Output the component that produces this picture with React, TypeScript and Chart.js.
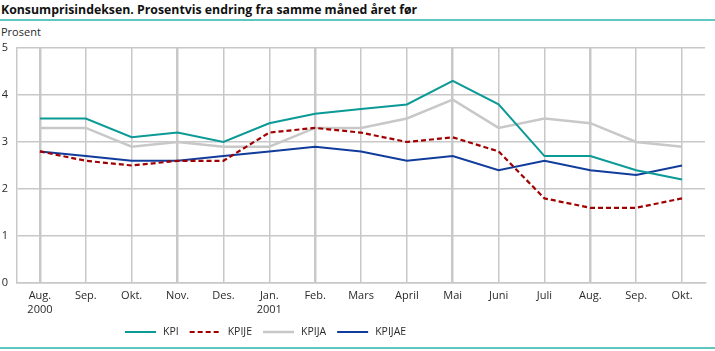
import React, { useEffect, useRef } from 'react';
import { Chart, registerables } from 'chart.js';

Chart.register(...registerables);

const months = ['Aug.', 'Sep.', 'Okt.', 'Nov.', 'Des.', 'Jan.', 'Feb.', 'Mars', 'April', 'Mai', 'Juni', 'Juli', 'Aug.', 'Sep.', 'Okt.'];
const years = ['2000', '', '', '', '', '2001', '', '', '', '', '', '', '', '', ''];

const kpi = [3.5, 3.5, 3.1, 3.2, 3.0, 3.4, 3.6, 3.7, 3.8, 4.3, 3.8, 2.7, 2.7, 2.4, 2.2];
const kpije = [2.8, 2.6, 2.5, 2.6, 2.6, 3.2, 3.3, 3.2, 3.0, 3.1, 2.8, 1.8, 1.6, 1.6, 1.8];
const kpija = [3.3, 3.3, 2.9, 3.0, 2.9, 2.9, 3.3, 3.3, 3.5, 3.9, 3.3, 3.5, 3.4, 3.0, 2.9];
const kpijae = [2.8, 2.7, 2.6, 2.6, 2.7, 2.8, 2.9, 2.8, 2.6, 2.7, 2.4, 2.6, 2.4, 2.3, 2.5];

const yTicks = [0, 1, 2, 3, 4, 5];

const FONT = '"Open Sans", "DejaVu Sans", sans-serif';
const GRID = '#c8c8c8';
const TEXT = '#2a2a2a';

const legendPlugin = {
  id: 'customLegend',
  afterDraw(chart: any) {
    const ctx = chart.ctx as CanvasRenderingContext2D;
    const y = 332;
    let x = 125;
    const lineLen = 31;
    ctx.save();
    ctx.font = `10.5px ${FONT}`;
    ctx.textBaseline = 'middle';
    chart.data.datasets.forEach((ds: any) => {
      ctx.beginPath();
      ctx.strokeStyle = ds.borderColor;
      ctx.lineWidth = ds.borderWidth;
      ctx.setLineDash(ds.borderDash || []);
      ctx.moveTo(x, y);
      ctx.lineTo(x + lineLen, y);
      ctx.stroke();
      ctx.setLineDash([]);
      ctx.fillStyle = TEXT;
      const tx = x + lineLen + 7;
      ctx.fillText(ds.label, tx, y);
      x = tx + ctx.measureText(ds.label).width + 11;
    });
    ctx.restore();
  },
};

export default function App() {
  const ref = useRef<HTMLCanvasElement>(null);

  useEffect(() => {
    if (!ref.current) return;
    const labels = months.map((m, i) => (years[i] ? [m, years[i]] : m));
    const chart = new Chart(ref.current, {
      type: 'line',
      data: {
        labels,
        datasets: [
          { label: 'KPI', data: kpi, borderColor: '#0b9a96', borderWidth: 2, pointRadius: 0, order: 0 },
          { label: 'KPIJE', data: kpije, borderColor: '#a00000', borderWidth: 2.2, borderDash: [5, 3], pointRadius: 0, order: 1 },
          { label: 'KPIJA', data: kpija, borderColor: '#c8c8c8', borderWidth: 2.5, pointRadius: 0, order: 3 },
          { label: 'KPIJAE', data: kpijae, borderColor: '#123c9c', borderWidth: 2, pointRadius: 0, order: 2 },
        ],
      },
      options: {
        responsive: false,
        animation: false,
        devicePixelRatio: 1,
        layout: { padding: { top: 48, right: 10, left: 0, bottom: 0 } },
        plugins: { legend: { display: false }, tooltip: { enabled: false } },
        scales: {
          x: {
            type: 'category',
            offset: true,
            grid: {
              color: GRID,
              lineWidth: (c: any) => (c.index % 3 === 0 ? 2.5 : 1.5),
              drawTicks: false,
              offset: false,
            },
            border: { color: GRID, width: 1.5 },
            ticks: {
              color: TEXT,
              font: { family: FONT, size: 11, lineHeight: 1.35 },
              padding: 5,
              maxRotation: 0,
              autoSkip: false,
            },
            afterFit: (s: any) => {
              s.height = 68;
            },
          },
          y: {
            min: 0,
            max: 5,
            afterBuildTicks: (s: any) => {
              s.ticks = yTicks.map((v) => ({ value: v }));
            },
            grid: { color: GRID, lineWidth: 1.5, drawTicks: false },
            border: { color: GRID, width: 1.5 },
            ticks: {
              color: TEXT,
              font: { family: FONT, size: 11 },
              padding: 9,
            },
            afterFit: (s: any) => {
              s.width = 17;
            },
          },
        },
      },
      plugins: [legendPlugin],
    });
    return () => chart.destroy();
  }, []);

  return (
    <div style={{ position: 'absolute', left: 0, top: 0, width: 715, height: 351, background: '#fff', overflow: 'hidden' }}>
      <div
        style={{
          position: 'absolute',
          left: 1,
          top: 1,
          fontFamily: FONT,
          fontWeight: 'bold',
          fontSize: 12.3,
          color: '#111',
          whiteSpace: 'nowrap',
        }}
      >
        Konsumprisindeksen. Prosentvis endring fra samme måned året før
      </div>
      <div style={{ position: 'absolute', left: 0, top: 19, width: 715, height: 2, background: '#5ec7c1' }} />
      <div style={{ position: 'absolute', left: 1, top: 24, fontFamily: FONT, fontSize: 11, color: TEXT }}>Prosent</div>
      <canvas ref={ref} width={715} height={351} style={{ position: 'absolute', left: 0, top: 0 }} />
      <div style={{ position: 'absolute', left: 0, top: 347, width: 715, height: 2, background: '#5ec7c1' }} />
    </div>
  );
}
